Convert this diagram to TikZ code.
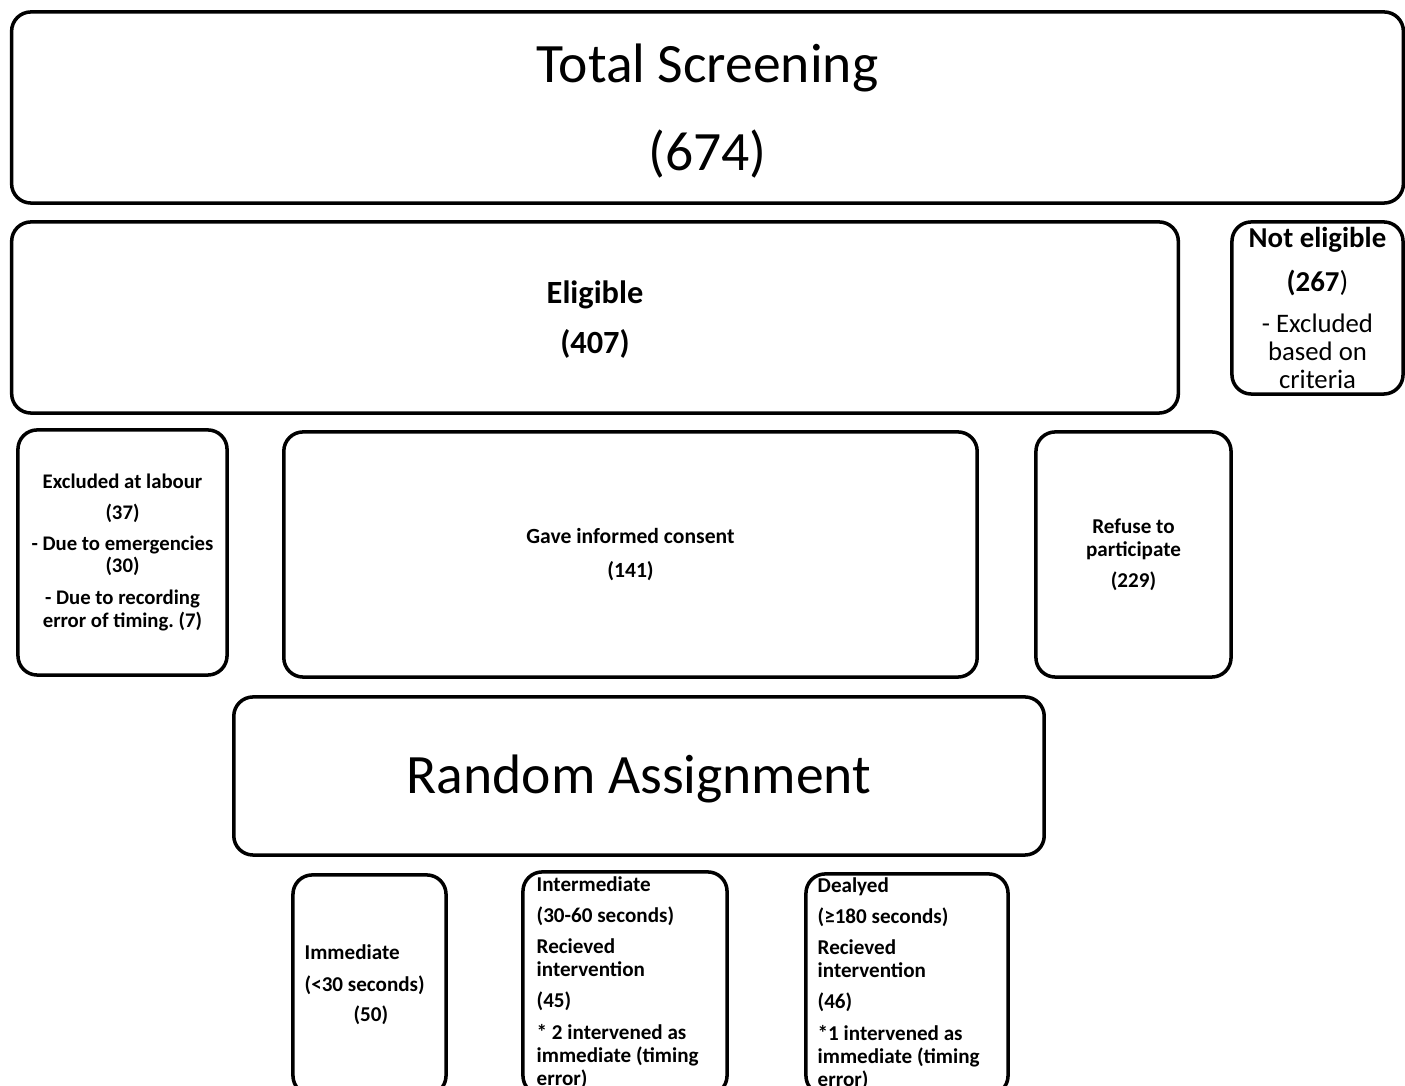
\documentclass[tikz,border=0pt]{standalone}
\usepackage{fontspec}
\setmainfont{Carlito}
\usepackage{tikz}
\usetikzlibrary{positioning}
\frenchspacing

\tikzset{
  stagebox/.style={draw,line width=1pt,rounded corners=5.5pt,inner sep=0pt},
  bigtext/.style={font=\fontsize{15.8}{19}\selectfont,align=center},
  midtext/.style={font=\fontsize{9.2}{11}\selectfont\bfseries,align=center},
  smalltext/.style={font=\fontsize{6}{6.5}\selectfont\bfseries,align=center},
  armtext/.style={font=\fontsize{6}{6.5}\selectfont\bfseries,align=left,inner sep=0pt,anchor=west}
}

\begin{document}
\begin{tikzpicture}[x=0.01cm,y=-0.01cm]

  \useasboundingbox (0,0) rectangle (1405,1086);
  \clip (0,0) rectangle (1405,1086);

  % screening
  \node [stagebox,bigtext,minimum width=13.91cm,minimum height=1.91cm] (total) at (707.5,107.5)
    {\rule{0pt}{12.8pt}Total Screening\\[6pt](674)};

  \node [stagebox,midtext,minimum width=11.66cm,minimum height=1.91cm] (eligible) at (595,317.5)
    {\rule{0pt}{7.6pt}Eligible\\[3.2pt](407)};

  \node [stagebox,align=center,font=\fontsize{7.6}{8}\selectfont,minimum width=1.71cm,minimum height=1.72cm] (noteligible) at (1317.5,308)
    {{\fontsize{8.2}{8}\selectfont\bfseries Not eligible}\\[4.5pt]{\fontsize{8.2}{8}\selectfont\textbf{(267})}\\[3.7pt]- Excluded\\based on\\criteria};

  % consent
  \node [stagebox,smalltext,font=\fontsize{5.9}{6.3}\selectfont\bfseries,minimum width=2.09cm,minimum height=2.45cm] (labour) at (122.5,552.5)
    {Excluded at labour\\[2.5pt](37)\\[2.5pt]- Due to emergencies\\(30)\\[2.8pt]- Due to recording\\error of timing. (7)};

  \node [stagebox,smalltext,font=\fontsize{6.15}{6.5}\selectfont\bfseries,minimum width=6.93cm,minimum height=2.45cm] (consent) at (630.5,554.5)
    {Gave informed consent\\[3.2pt](141)};

  \node [stagebox,smalltext,minimum width=1.95cm,minimum height=2.45cm] (refuse) at (1133.5,554.5)
    {Refuse to\\participate\\[2.3pt](229)};

  \node [stagebox,bigtext,minimum width=8.10cm,minimum height=1.58cm] (random) at (639,776)
    {\rule{0pt}{12.6pt}Random Assignment};

  % arms
  \node [stagebox,minimum width=1.53cm,minimum height=2.20cm] (immediate) at (369.5,985) {};
  \node [stagebox,minimum width=2.04cm,minimum height=2.23cm] (intermediate) at (625,983.5) {};
  \node [stagebox,minimum width=2.02cm,minimum height=2.21cm] (delayed) at (907,984.5) {};

  \node [armtext] (immediatelab) at (304,985)
    {Immediate\\[2.6pt](<30 seconds)\\[2pt]\hspace*{13.9pt}(50)};

  \node [armtext] (intermediatelab) at (536,982.5)
    {Intermediate\\[2.3pt](30-60 seconds)\\[2.3pt]Recieved\\intervention\\[2.3pt](45)\\[2.6pt]* 2 intervened as\\immediate (timing\\error)};

  \node [armtext] (delayedlab) at (817,983.5)
    {Dealyed\\[2.3pt](≥180 seconds)\\[2.3pt]Recieved\\intervention\\[2.3pt](46)\\[2.6pt]*1 intervened as\\immediate (timing\\error)};

\end{tikzpicture}
\end{document}
